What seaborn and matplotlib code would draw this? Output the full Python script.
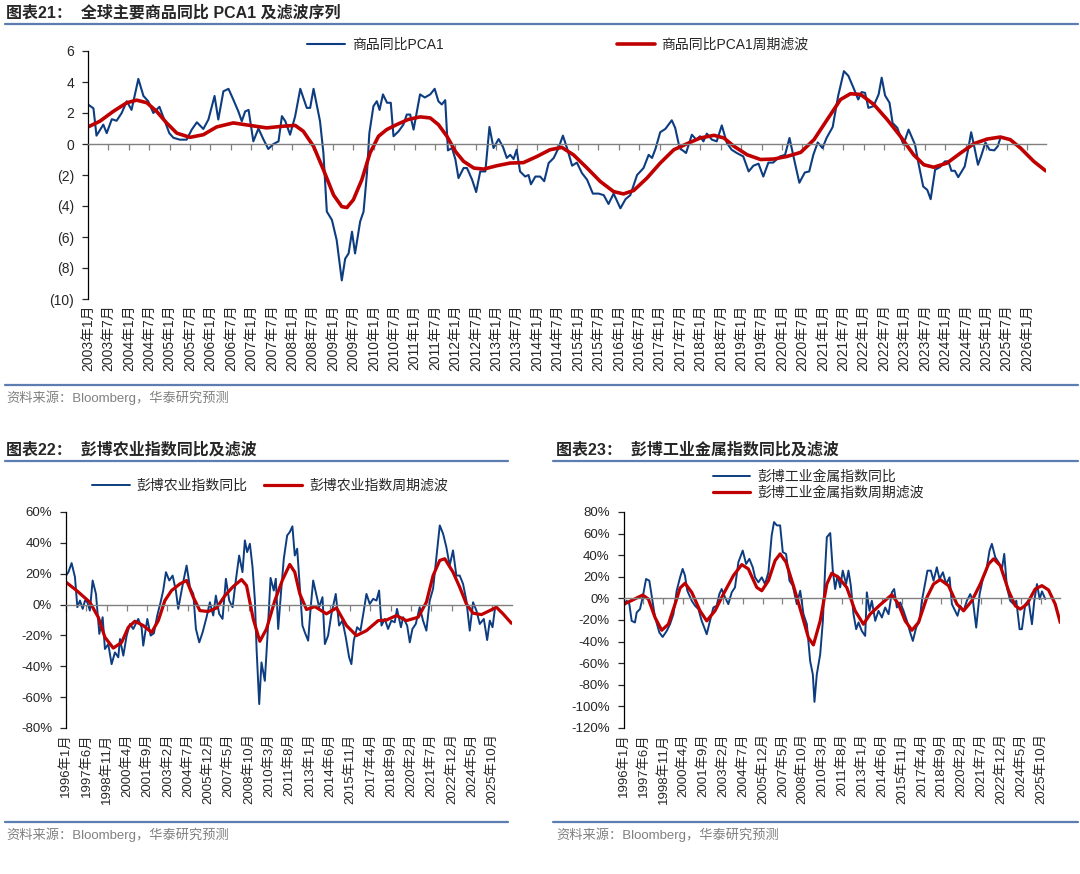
import matplotlib
matplotlib.use("Agg")
import matplotlib.pyplot as plt
from matplotlib.lines import Line2D
import seaborn as sns

# ---------------------------------------------------------------
# DATA (x = months since series start)
# ---------------------------------------------------------------
# Figure 21: commodity YoY PCA1, months since 2003-01
pca_m = [0, 1.6, 2.5, 4.5, 5.5, 7, 8.4, 9.9, 11.4, 12.8,
         14.8, 16.3, 17.7, 19.2, 21, 22.2, 23.9, 25.1, 27, 29,
         30.5, 32, 33.9, 35.4, 37.2, 38.3, 39.8, 41.3, 42.7, 44.2,
         45.2, 46.2, 47.2, 48.6, 50.1, 51.6, 53, 54.5, 56, 57,
         58, 59.4, 60.9, 62.4, 64.3, 65.3, 66.3, 68.2, 69.2, 70.2,
         71.7, 73.1, 74.6, 75.6, 76.6, 77.6, 78.5, 80, 81, 82,
         82.7, 83.9, 84.9, 85.7, 86.7, 87.9, 89, 89.8, 91.3, 92.7,
         93.7, 94.7, 95.7, 97.6, 99, 100.6, 101.9, 103, 104, 105,
         105.8, 107, 108, 108.9, 110.4, 111.4, 112.9, 114.1, 115.3, 116.8,
         118, 119.2, 120.7, 122, 123.1, 124.1, 125.1, 126, 127, 128.5,
         129.5, 130.2, 131.5,
         132.9, 134.1, 135.4, 136.9, 138.3, 139.6, 140.8, 142.3, 143.7, 145.2,
         146.7, 148.4, 150.1, 151.6, 153, 154.5, 156.5, 158, 159.4, 161.4,
         163.3, 164.8, 165.8, 166.8, 168.2, 169.7, 171.6, 172.6, 173.9, 175.8,
         177.5, 178.8, 179.9, 180.9, 181.9, 183.4, 184.8, 186.3, 187.8, 189.2,
         190.7, 192.6, 194.2, 195.6, 197.1, 198.5, 200, 201.4, 203.4, 204.9,
         206.2, 207.8, 209.1, 210.7, 212, 213.2, 214.5, 215.9, 217.1, 218.9,
         220.5, 222.2, 223.5, 225, 226.4, 227.4, 228.4, 229.4, 230.9, 232.4,
         233.3, 234.3, 235.6, 236.5, 237.9, 239.7, 241.2, 243.1, 244.1, 245.5,
         246.7, 247.7, 249, 250.4, 251.9, 252.9, 253.8, 254.8, 255.8, 257.7,
         258.7, 259.6, 260.6, 261.6, 262.5, 263.8, 265, 266.4, 267.4, 268.2]
pca_v = [2.55, 2.3, 0.54, 1.25, 0.7, 1.6, 1.5, 2.0, 2.76, 2.2,
         4.2, 3.1, 2.76, 2.0, 2.4, 1.7, 0.7, 0.4, 0.28, 0.28,
         0.93, 1.4, 0.97, 1.58, 3.1, 1.58, 3.4, 3.56, 2.87, 2.1,
         1.47, 2.1, 2.2, 0.17, 1.0, 0.28, -0.32, 0, 0.17, 1.8,
         1.47, 0.6, 1.8, 3.56, 2.33, 2.33, 3.56, 1.47, -0.58, -4.36,
         -4.9, -6.2, -8.8, -7.4, -7.06, -5.66, -7.06, -5.0, -4.36, -1.88,
         0.7, 2.44, 2.76, 2.2, 3.2, 2.66, 2.66, 0.5, 0.82, 1.25,
         1.9, 1.9, 0.93, 3.2, 3.0, 3.2, 3.56, 2.76, 2.55, 2.83,
         -0.41, -0.26, -1.0, -2.2, -1.55, -1.55, -2.3, -3.1, -1.77, -1.77,
         1.1, -0.26, 0.32, -0.2, -0.9, -0.7, -0.97, -0.37, -1.77, -2.1,
         -2.0, -2.6, -2.1,
         -2.1, -2.4, -1.23, -0.9, -0.26, 0.54, -0.26, -1.4, -1.2, -1.88,
         -2.3, -3.2, -3.2, -3.3, -3.87, -3.2, -4.15, -3.56, -3.3, -2.0,
         -1.55, -0.7, -0.9, -0.32, 0.76, 0.97, 1.53, 1.04, -0.26, -0.58,
         0.6, 0.28, 0.5, 0.17, 0.67, 0.28, 0.17, 1.2, 0.06, -0.37,
         -0.58, -0.8, -1.77, -1.4, -1.27, -2.1, -1.2, -1.2, -0.8, -0.7,
         0.39, -1.23, -2.5, -1.84, -1.77, -0.7, 0.1, -0.26, 0.39, 1.1,
         3.1, 4.7, 4.4, 3.63, 2.87, 3.35, 3.3, 2.33, 2.44, 3.2,
         4.28, 3.13, 2.66, 1.36, 1.04, -0.04, 0.93, -0.04, -1.23, -2.74,
         -2.96, -3.56, -1.66, -1.5, -1.12, -1.12, -1.73, -1.73, -2.14, -1.45,
         -0.37, 0.76, -0.26, -1.34, -0.8, 0.1, -0.37, -0.41, -0.15, 0.39]
pca_f_m = [0, 3.5, 7.4, 11.4, 14.3, 17.3, 20.2, 23.1, 26.1, 30,
           33.9, 37.8, 42.7, 47.6, 52.5, 57.5, 60.9, 63.3, 66.3, 69.2,
           72.2, 74.6, 76.1, 78, 80.5, 82.9, 85.4, 87.8, 90.7, 94.1,
           97.6, 100.6, 103, 105.5, 108, 110.4, 113.4, 116.3, 120.2, 124.1,
           128, 132, 135.8, 139.3, 142.7, 146.7, 150.6, 154.5, 157.4, 160.4,
           164.3, 168.2, 172.2, 176.1, 180, 184, 186.9, 189.9, 193.8, 197.7,
           201.6, 205.5, 209.5, 213.4, 217.3, 221.2, 224.1, 227.1, 231, 234.9,
           238.8, 242.7, 245.7, 248.6, 252.5, 256.5, 260.4, 264.3, 268.2, 271.1,
           274.1, 278, 281.5]
pca_f_v = [1.1, 1.47, 2.1, 2.66, 2.83, 2.66, 2.1, 1.36, 0.7, 0.43,
           0.6, 1.1, 1.36, 1.2, 1.04, 1.15, 1.2, 0.82, -0.15, -1.66,
           -3.3, -4.04, -4.1, -3.6, -2.3, -0.58, 0.5, 0.93, 1.25, 1.58,
           1.75, 1.68, 1.25, 0.5, -0.48, -1.12, -1.55, -1.62, -1.4, -1.23,
           -1.2, -0.8, -0.37, -0.22, -0.7, -1.55, -2.42, -3.07, -3.22, -3.0,
           -2.2, -1.23, -0.37, 0.02, 0.39, 0.56, 0.39, -0.15, -0.7, -1.0,
           -0.97, -0.8, -0.54, 0.28, 1.58, 2.87, 3.24, 3.2, 2.55, 1.58,
           0.5, -0.7, -1.34, -1.5, -1.23, -0.58, 0.02, 0.32, 0.45, 0.28,
           -0.26, -1.12, -1.73]

# Figure 22: Bloomberg agriculture index YoY (%), months since 1996-01
agr_m = [0, 2, 4.7, 7.5, 9.5, 11.7, 14, 15.9, 17.9, 20,
         22.3, 25.1, 27.9, 30.7, 32.6, 35.4, 38.2, 41, 43.8, 45.2,
         48, 50.8, 53.5, 56.3, 60.5, 63.3, 64.7, 68.1, 70.9, 73.6,
         76.4, 79.2, 81.4, 83.7, 86.5, 89.3, 92, 94, 96.8, 98.7,
         101, 103.8, 106.6, 108.8, 111.6, 114.4, 117.7, 120.5, 123.3, 125.5,
         128.3, 131.1, 133.9, 136.7, 139.5, 142.2, 145, 147.8, 149.8, 151.7,
         154, 156.2, 158.2, 159.6, 161.8, 163.7, 166.5, 168.5, 171.3, 174,
         175.7, 177.7, 180.5, 182.4, 185.2, 187.4, 189.6, 191.6, 193.6, 195.8,
         198, 200, 202.8, 204.8, 207, 209.2, 212, 214.8, 216.8, 219.5,
         222.3, 225.9, 228.7, 231.5, 234.3, 237.1, 239, 241, 243.8, 246.6,
         249.4, 251.6, 254.4, 257.2, 260, 262.2, 264.2, 267, 269.7, 272.5,
         275.3, 277.2, 280.5, 282.3, 285.7, 287.9, 290.1, 292.9, 296.2, 299,
         301.8, 304.6, 307.4, 310.2, 313, 315.8, 318.5, 321.3, 324.1, 326.9,
         329.7, 332.5, 335.3, 338.1, 340.9, 343.7, 346.5, 349.9, 352.7, 354.9,
         357.2, 359.2]
agr_v = [18.8, 21, 26.9, 17.8, -1.7, 2.6, -2.8, 2.6, 1.5, -3.9,
         15.6, 6.9, -19, -8.2, -28.8, -25.6, -38.6, -31, -34.2, -22.3,
         -33.1, -20.1, -12.6, -15.8, -9.3, -14.7, -26.6, -9.3, -20.1, -18.6,
         -7.1, 1.5, 9.1, 21, 15.6, 18.8, 9.1, -2.8, 9.1, 16.7,
         25.3, 11.3, 6.9, -15.8, -24.5, -18, -8.2, 1.5, -7.1, 5.8,
         -6, -9.3, 16.7, 2.6, -1.7, 15.6, 31.8, 21, 41.6, 34,
         39.4, 24.3, 2.6, -28.8, -64.5, -37.5, -49.4, -23.4, 17.3, 9.1,
         16.7, -15.8, 12.3, 29.7, 44.8, 47, 50.7, 31.8, 36.2, 11.3,
         -13.6, -18, -23.4, -2.8, 15.6, 8, -1.7, 4.8, -25.6, -20.1,
         -6, 6.9, -13.6, -10.4, -21.2, -34.2, -38.6, -23.4, -14.7, -16.9,
         -3.9, 6.9, 0.4, 3.7, 2.6, 9.1, -13.6, -9.3, -15.8, -10.4,
         -11.5, -2.8, -14.7, -8.2, -13.6, -24.5, -15.8, -12.6, -1.7, -10.4,
         -16.9, 2.6, 10.2, 30.8, 51.3, 45.9, 37.3, 25.3, 35.1, 18.8,
         18.8, 13.4, 2.6, -16.9, 1.5, -3.9, -12.6, -9.3, -23, -10.4,
         -14.7, -2.8]
agr_f_m = [0, 8.9, 20, 27, 32.6, 39.6, 46.6, 52.2, 57.7, 64.7,
           71.7, 77.3, 82.8, 88.4, 95.4, 101, 106.6, 112.1, 119.1, 126.1,
           133.1, 140, 147, 151.2, 156.8, 162.3, 167.9, 174.9, 181.3, 187.4,
           191.6, 195.8, 201.4, 208.4, 218.1, 226.5, 234.9, 243.2, 251.6, 261.4,
           268.4, 276.7, 285.1, 294.9, 301.8, 307.4, 313, 317.2, 324.1, 329.7,
           335.3, 340.9, 347.9, 354.9, 360.4, 366, 373]
agr_f_v = [14.5, 9.1, 1.5, -8.2, -21.2, -28.2, -24.5, -14.7, -10.8, -13.6,
           -18, -10.4, 2.6, 9.1, 13.4, 15.6, 4.8, -3.9, -4.5, -2.2,
           5.8, 11.7, 16.2, 12.3, -9.3, -23.8, -15.8, 2.6, 16, 26,
           21, 6.9, -3.2, -1.3, -6, -2.2, -13.6, -20.1, -16.9, -10.4,
           -10, -7.1, -10.4, -8.2, 1.5, 18.8, 28.6, 29.7, 21, 11.3,
           0.4, -5.6, -6.5, -3.9, -1.7, -6, -12.1]

# Figure 23: Bloomberg industrial metals index YoY (%), months since 1996-01
met_m = [0.4, 2.7, 5, 7, 9.8, 11.3, 14.1, 16.4, 19.3, 22.1,
         24.1, 27, 30.7, 33.5, 37, 39.8, 42.7, 45.5, 48.4, 50.6,
         52.6, 54.6, 58.4, 61.2, 64.1, 66.9, 68.9, 71.2, 74, 76.9,
         79.7, 82, 84, 86.9, 89.7, 92.6, 95.4, 98.3, 102, 104.9,
         107.7, 110.6, 112.6, 115.4, 118.3, 121.1, 124, 126.8, 128.8, 131.2,
         134, 136.3, 139.1, 142, 144.8, 148.3, 151.2, 154, 156.9, 159.7,
         162, 163.4, 165.4, 168.3, 170.6, 172.6, 174, 176.9, 179.1, 181.1,
         183.1, 185.4, 187.6, 190.5, 192.5, 194.5, 196.8, 199.1, 201.1, 203.9,
         206.8, 208.2, 210.5, 212.5, 215.4, 218.2, 221.1, 223.9, 226.8, 229.6,
         231.6, 233.9, 236.8, 239.6, 242.5, 245.3, 247.6, 250.4, 253.3, 255.3,
         258.2, 260.1, 263, 265.3, 268.1, 270.4, 273.3, 276.1, 279, 281,
         283, 285.8, 288.1, 291, 293.8, 296.7, 299, 301.8, 304.7, 307.5,
         310.4, 313.2, 315.2, 318.1, 320.9, 323.8, 325.8, 328.1, 330.9, 333.8,
         336.1, 338.9, 340.9, 343.8, 346.6, 349.5, 351.5, 353.8, 356.1, 358.1,
         360.9]
met_v = [-6.8, -2.2, -5.3, -20.8, -22.3, -13, -9.9, 0.9, 18, 16.4,
         2.5, -17.7, -31.6, -35.7, -30.1, -23.9, -14.6, 7.1, 19.5, 27.3,
         21.1, 7.1, -2.2, -6.8, -9.9, -20.8, -26.4, -33.2, -20.8, -8.4,
         -6.8, 4, 8.7, 0.9, -5.3, 5.6, 10.2, 33.5, 44.3, 31.9,
         36.6, 28.8, 19.5, 14.9, 19.5, 13.3, 24.2, 58.3, 70.7, 67.6,
         67.6, 42.8, 41.2, 16.4, 11.8, -5.3, 7.1, -14.6, -23.9, -58,
         -70.4, -95.8, -70.4, -51.8, -20.8, 28.8, 56.7, 60.5, 25.7, 8.7,
         21.1, 10.2, 25.7, 13.3, 25.7, 11.8, -14.6, -28.5, -22.3, -30.1,
         -34.7, 5.6, -11.5, -2.2, -20.8, -11.5, -17.7, -8.4, -14.6, 5.6,
         8.7, -8.4, -3.7, -11.5, -20.8, -31.6, -39.4, -27, -20.8, -2.2,
         14.9, 25.7, 25.7, 16.4, 28.8, 18, 24.2, 13.3, 19.5, -5.3,
         -9.9, -16.1, -6.8, -11.5, -2.2, 4, -2.2, -27, 4, 18,
         25.7, 44.3, 50.5, 38.1, 33.5, 27.3, 41.2, 10.2, -2.2, -5.3,
         -2.2, -28.5, -28.5, -5.3, -2.2, -23.9, -2.2, 13.3, -0.6, 6.5,
         -0.6]
met_f_m = [0.4, 8.4, 16.4, 21.3, 27, 32.7, 38.4, 44.1, 48.4, 52.6,
           58.4, 65.5, 71.2, 78.3, 85.5, 94, 101.2, 106.8, 114, 118.3,
           124, 129.7, 134, 139.1, 145.4, 152.5, 158.2, 162.5, 168.3, 174,
           178.2, 183.9, 191, 198.2, 205.3, 211, 219.6, 229.6, 235.3, 241,
           246.8, 252.4, 259.6, 265.3, 271, 278.1, 285.3, 291, 298.1, 305.3,
           312.4, 316.7, 322.4, 329.5, 335.2, 339.5, 345.2, 352.3, 358, 363.7,
           369.4, 373.7]
met_f_v = [-5.3, -1.2, 3.1, -0.6, -17.7, -29.5, -23.9, -5.3, 9.6, 14,
           5.6, -11.5, -20.8, -11.5, 4, 21.1, 31.3, 27.3, 10.2, 7.1,
           16.4, 35, 41.2, 33.5, 11.8, -14.6, -36.3, -43.1, -20.8, 13.3,
           23.3, 19.5, 10.2, -11.5, -23.9, -14.6, -5.9, 3.4, -5.3, -20.8,
           -29.5, -22.3, 0.9, 13.3, 17.4, 11.8, -5.3, -11.5, -2.2, 13.3,
           31.9, 36.6, 30.4, 7.1, -6.8, -9.9, -5.3, 8.7, 11.8, 7.8,
           -5.3, -22.3]

# tick labels
pca_xticks = list(range(0, 277, 6))
pca_xlabels = [f"{2003 + m // 12}年{m % 12 + 1}月" for m in pca_xticks]
pca_yticks = [6, 4, 2, 0, -2, -4, -6, -8, -10]
pca_ylabels = ["6", "4", "2", "0", "(2)", "(4)", "(6)", "(8)", "(10)"]

bbg_xticks = list(range(0, 358, 17))
bbg_xlabels = [f"{1996 + m // 12}年{m % 12 + 1}月" for m in bbg_xticks]
agr_yticks = [60, 40, 20, 0, -20, -40, -60, -80]
agr_ylabels = ["60%", "40%", "20%", "0%", "-20%", "-40%", "-60%", "-80%"]
met_yticks = [80, 60, 40, 20, 0, -20, -40, -60, -80, -100, -120]
met_ylabels = ["80%", "60%", "40%", "20%", "0%", "-20%", "-40%", "-60%",
               "-80%", "-100%", "-120%"]

# ---------------------------------------------------------------
# STYLE
# ---------------------------------------------------------------
BLUE = "#0D3D80"
RED = "#C00000"
GREY = "#808080"
RULE = "#5B7DB0"

sns.set_style("ticks")
plt.rcParams["font.family"] = ["Liberation Sans", "Noto Sans CJK SC", "DejaVu Sans"]
plt.rcParams["axes.unicode_minus"] = False

W, H = 1080, 874
fig = plt.figure(figsize=(10.8, 8.74), dpi=100)


def fx(px):
    return px / W


def fy(py):
    return 1 - py / H


def box(l, t, r, b):
    return [fx(l), fy(b), fx(r) - fx(l), fy(t) - fy(b)]


def hrule(x0, x1, y, color=RULE, lw=1.6):
    fig.add_artist(Line2D([fx(x0), fx(x1)], [fy(y), fy(y)],
                          transform=fig.transFigure, color=color, lw=lw))


def style_axes(ax, xlim, ylim, yticks, ylabels, xticks, xlabels, fs=10):
    ax.set_xlim(xlim)
    ax.set_ylim(ylim)
    ax.set_yticks(yticks, ylabels)
    for s in ["top", "right"]:
        ax.spines[s].set_visible(False)
    ax.spines["left"].set_color("black")
    ax.spines["left"].set_linewidth(0.9)
    # zero line carries the month ticks
    ax.spines["bottom"].set_position(("data", 0))
    ax.spines["bottom"].set_color(GREY)
    ax.spines["bottom"].set_linewidth(1.0)
    ax.set_xticks(xticks)
    ax.tick_params(axis="x", direction="out", length=4, width=0.9,
                   color=GREY, labelbottom=False)
    ax.tick_params(axis="y", direction="out", length=4, width=0.9,
                   labelsize=fs, pad=6)
    ax.set_xlabel("")
    ax.set_ylabel("")
    sec = ax.secondary_xaxis(0)
    sec.set_xticks(xticks, xlabels, rotation=90)
    sec.tick_params(length=0, pad=4, labelsize=fs)
    sec.spines["bottom"].set_visible(False)


# ---------------------------------------------------------------
# FIGURE 21
# ---------------------------------------------------------------
fig.text(fx(6), fy(13), "图表21：  全球主要商品同比 PCA1 及滤波序列",
         fontsize=11.5, fontweight="bold", va="center")
hrule(5, 1078, 24)

ax1 = fig.add_axes(box(88, 51, 1046, 299))
sns.lineplot(x=pca_m, y=pca_v, ax=ax1, color=BLUE, lw=1.5,
             estimator=None, label="商品同比PCA1")
sns.lineplot(x=pca_f_m, y=pca_f_v, ax=ax1, color=RED, lw=2.6,
             estimator=None, label="商品同比PCA1周期滤波")
style_axes(ax1, (0, 281.6), (-10, 6), pca_yticks, pca_ylabels,
           pca_xticks, pca_xlabels)
ax1.legend(loc="center", bbox_to_anchor=(fx(558), fy(45)),
           bbox_transform=fig.transFigure, ncol=2, frameon=False,
           fontsize=10, handlelength=2.7, handletextpad=0.5,
           columnspacing=12.5)

hrule(5, 1078, 385)
fig.text(fx(6), fy(398), "资料来源：Bloomberg，华泰研究预测",
         fontsize=9.5, color="#808080", va="center")

# ---------------------------------------------------------------
# FIGURE 22
# ---------------------------------------------------------------
fig.text(fx(6), fy(450), "图表22：  彭博农业指数同比及滤波",
         fontsize=11.5, fontweight="bold", va="center")
hrule(5, 508, 461)

ax2 = fig.add_axes(box(66, 512, 512, 728))
sns.lineplot(x=agr_m, y=agr_v, ax=ax2, color=BLUE, lw=1.4,
             estimator=None, label="彭博农业指数同比")
sns.lineplot(x=agr_f_m, y=agr_f_v, ax=ax2, color=RED, lw=2.3,
             estimator=None, label="彭博农业指数周期滤波")
style_axes(ax2, (0, 373.5), (-80, 60), agr_yticks, agr_ylabels,
           bbg_xticks, bbg_xlabels, fs=9.5)
ax2.legend(loc="center", bbox_to_anchor=(fx(270), fy(486)),
           bbox_transform=fig.transFigure, ncol=2, frameon=False,
           fontsize=10, handlelength=2.7, handletextpad=0.5,
           columnspacing=1.2)

hrule(5, 508, 822)
fig.text(fx(6), fy(835), "资料来源：Bloomberg，华泰研究预测",
         fontsize=9.5, color="#808080", va="center")

# ---------------------------------------------------------------
# FIGURE 23
# ---------------------------------------------------------------
fig.text(fx(556), fy(450), "图表23：  彭博工业金属指数同比及滤波",
         fontsize=11.5, fontweight="bold", va="center")
hrule(553, 1078, 461)

ax3 = fig.add_axes(box(623.5, 512, 1060, 728))
sns.lineplot(x=met_m, y=met_v, ax=ax3, color=BLUE, lw=1.4,
             estimator=None, label="彭博工业金属指数同比")
sns.lineplot(x=met_f_m, y=met_f_v, ax=ax3, color=RED, lw=2.3,
             estimator=None, label="彭博工业金属指数周期滤波")
style_axes(ax3, (0, 373.5), (-120, 80), met_yticks, met_ylabels,
           bbg_xticks, bbg_xlabels, fs=9.5)
ax3.legend(loc="center", bbox_to_anchor=(fx(818), fy(485)),
           bbox_transform=fig.transFigure, ncol=1, frameon=False,
           fontsize=10, handlelength=2.7, handletextpad=0.5,
           labelspacing=0.15)

hrule(553, 1078, 822)
fig.text(fx(556), fy(835), "资料来源：Bloomberg，华泰研究预测",
         fontsize=9.5, color="#808080", va="center")

fig.savefig("out.png", dpi=100)
